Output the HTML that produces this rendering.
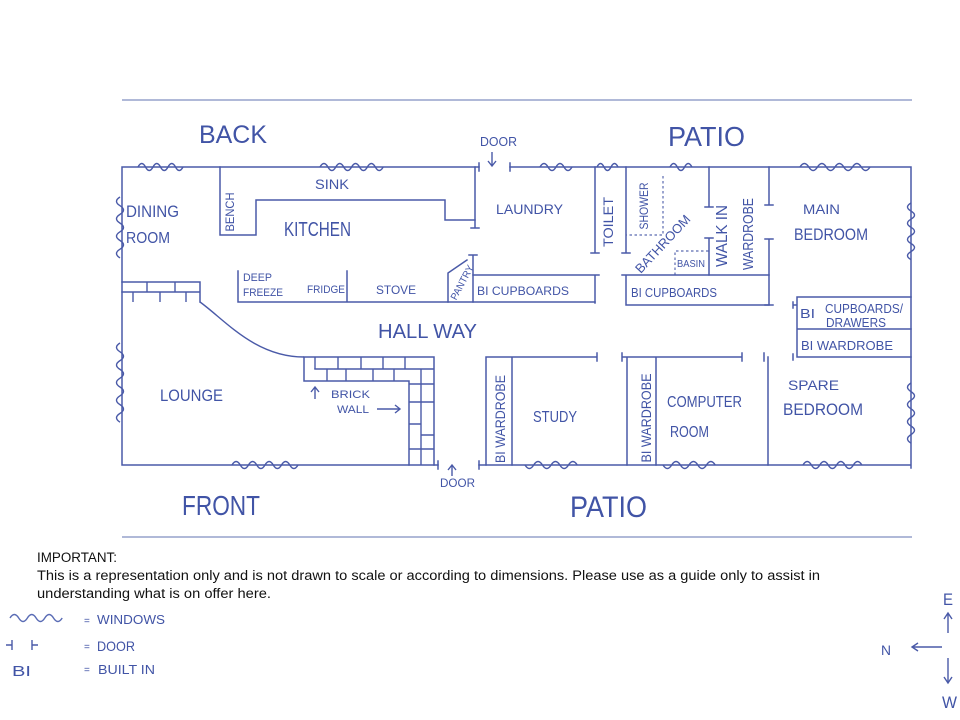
<!DOCTYPE html>
<html><head><meta charset="utf-8"><style>
html,body{margin:0;padding:0;background:#fff;}
svg{display:block;}
.w{fill:none;stroke:#4a5aa8;stroke-width:1.5;stroke-linecap:square;}
.d{fill:none;stroke:#5a6ab0;stroke-width:1.2;stroke-dasharray:2.5 2.5;}
.v{fill:none;stroke:#4a5aa8;stroke-width:1.4;}
.t{font-family:"Liberation Sans",sans-serif;fill:#4154a6;}
.k{font-family:"Liberation Sans",sans-serif;fill:#111;font-size:13.5px;}
</style></head><body>
<svg width="960" height="720" viewBox="0 0 960 720" xmlns="http://www.w3.org/2000/svg">
<rect width="960" height="720" fill="#fff"/>
<!-- boundary lines -->
<path d="M122,100 H912" stroke="#95a2cc" stroke-width="1.6" fill="none"/>
<path d="M122,537 H912" stroke="#95a2cc" stroke-width="1.6" fill="none"/>

<!-- outer walls -->
<path class="w" d="M122,167 H479 M510,167 H911 M122,167 V465 M911,167 V468 M122,465 H438 M479,465 H911"/>
<path class="w" d="M479,163 V171 M510,163 V171 M438,461 V469 M479,461 V469"/>

<!-- kitchen -->
<path class="w" d="M220,167 V235 H256 V200 H445 V220 H475"/>
<path class="w" d="M475,167 V228 M471,228 H479"/>
<path class="w" d="M238,271 V302 M347,271 V302 M238,302 H595"/>
<path class="w" d="M448,302 V273 L467,260 M473,255 V302 M469,255 H477"/>
<path class="w" d="M473,275 H595 V303 M591,275 H599"/>

<!-- laundry / toilet / bath -->
<path class="w" d="M595,167 V253 M591,253 H599 M626,167 V253 M622,253 H630"/>
<path class="d" d="M663,176 V235 H626"/>
<path class="w" d="M709,167 V207 M705,207 H713 M709,238 V275 M705,238 H713"/>
<path class="d" d="M675,275 V251 H709"/>
<path class="w" d="M769,167 V205 M765,205 H773 M769,239 V305 M765,239 H773 M765,305 H773"/>
<path class="w" d="M626,305 V275 H769 M626,305 H769 M622,275 H630"/>

<!-- main bedroom built ins -->
<path class="w" d="M797,297 H911 M797,297 V357 H911 M797,329 H911 M793,302 V308 M793,305 H797 M793,354 V360"/>

<!-- hallway lower rooms -->
<path class="w" d="M486,465 V357 H597 M512,357 V465 M597,353 V361"/>
<path class="w" d="M622,357 H742 M627,357 V465 M656,357 V465 M622,353 V361 M742,353 V361"/>
<path class="w" d="M768,357 V465 M764,353 V361"/>

<!-- brick walls -->
<path class="w" d="M304,357 H434 V465 M304,357 V381 H409 V465 M315,369 H434"/>
<path class="v" d="M315,357 V369 M338,357 V369 M361,357 V369 M383,357 V369 M405,357 V369 M327,369 V381 M346,369 V381 M373,369 V381 M394,369 V381 M421,369 V465 M409,384 H434 M409,402 H421 M409,424 H421 M421,435 H434 M409,449 H434 M421,402 H434"/>
<path class="w" d="M122,282 H200 V302 M122,292 H200"/>
<path class="v" d="M147,282 V292 M175,282 V292 M133,292 V302 M160,292 V302 M186,292 V302"/>
<path class="v" d="M200,302 C225,320 255,357 304,357"/>

<!-- windows -->
<g class="v">
<path d="M138,167 q3.75,-7 7.5,0 t7.5,0 t7.5,0 t7.5,0 t7.5,0 t7.5,0"/>
<path d="M320,167 q3.95,-7 7.9,0 t7.9,0 t7.9,0 t7.9,0 t7.9,0 t7.9,0 t7.9,0 t7.9,0"/>
<path d="M540,167 q4,-7 8,0 t8,0 t8,0 t8,0"/>
<path d="M597,167 q3.5,-7 7,0 t7,0 t7,0"/>
<path d="M670,167 q3.65,-7 7.3,0 t7.3,0 t7.3,0"/>
<path d="M800,167 q4.375,-7 8.75,0 t8.75,0 t8.75,0 t8.75,0 t8.75,0 t8.75,0 t8.75,0 t8.75,0"/>
<path d="M232,465 q4.125,-7 8.25,0 t8.25,0 t8.25,0 t8.25,0 t8.25,0 t8.25,0 t8.25,0 t8.25,0"/>
<path d="M525,465 q4.35,7 8.7,0 t8.7,0 t8.7,0 t8.7,0 t8.7,0 t8.7,0"/>
<path d="M663,465 q4.35,7 8.7,0 t8.7,0 t8.7,0 t8.7,0 t8.7,0 t8.7,0"/>
<path d="M803,465 q4.2,-7 8.4,0 t8.4,0 t8.4,0 t8.4,0 t8.4,0 t8.4,0 t8.4,0"/>
<path d="M120,197 q-7,4.35 0,8.7 t0,8.7 t0,8.7 t0,8.7 t0,8.7 t0,8.7 t0,8.7"/>
<path d="M120,343 q-7,4.4 0,8.8 t0,8.8 t0,8.8 t0,8.8 t0,8.8 t0,8.8 t0,8.8 t0,8.8 t0,8.8"/>
<path d="M911,203 q-7,4.05 0,8.1 t0,8.1 t0,8.1 t0,8.1 t0,8.1 t0,8.1 t0,8.1"/>
<path d="M911,383 q-7,4.3 0,8.6 t0,8.6 t0,8.6 t0,8.6 t0,8.6 t0,8.6 t0,8.6"/>
<path d="M10,618 q4.35,-7 8.7,0 t8.7,0 t8.7,0 t8.7,0 t8.7,0 t8.7,0" stroke="#5a6cb5"/>
</g>

<!-- arrows -->
<g class="v">
<path d="M492,152 V166 M488,161 L492,166 L496,161"/>
<path d="M452,465 V476 M448,470 L452,465 L456,470"/>
<path d="M315,387 V399 M311,392 L315,387 L319,392"/>
<path d="M377,409 H400 M395,405 L400,409 L395,413"/>
<path d="M948,613 V633 M944,619 L948,613 L952,619"/>
<path d="M942,647 H912 M918,643 L912,647 L918,651"/>
<path d="M948,658 V683 M944,677 L948,683 L952,677"/>
<path d="M6,645 H12 M12,640 V650 M32,640 V650 M32,645 H38"/>
</g>

<!-- labels -->
<g class="t">
<text x="199" y="143" font-size="25" textLength="68" lengthAdjust="spacingAndGlyphs">BACK</text>
<text x="668" y="146" font-size="28" textLength="77" lengthAdjust="spacingAndGlyphs">PATIO</text>
<text x="480" y="146" font-size="13" textLength="37" lengthAdjust="spacingAndGlyphs">DOOR</text>
<text x="315" y="189" font-size="14" textLength="34" lengthAdjust="spacingAndGlyphs">SINK</text>
<text x="126" y="217" font-size="17" textLength="53" lengthAdjust="spacingAndGlyphs">DINING</text>
<text x="126" y="243" font-size="16" textLength="44" lengthAdjust="spacingAndGlyphs">ROOM</text>
<text x="284" y="236" font-size="20" textLength="67" lengthAdjust="spacingAndGlyphs">KITCHEN</text>
<text x="243" y="281" font-size="11" textLength="29" lengthAdjust="spacingAndGlyphs">DEEP</text>
<text x="243" y="296" font-size="11" textLength="40" lengthAdjust="spacingAndGlyphs">FREEZE</text>
<text x="307" y="293" font-size="11" textLength="38" lengthAdjust="spacingAndGlyphs">FRIDGE</text>
<text x="376" y="294" font-size="12" textLength="40" lengthAdjust="spacingAndGlyphs">STOVE</text>
<text x="477" y="295" font-size="12" textLength="92" lengthAdjust="spacingAndGlyphs">BI CUPBOARDS</text>
<text x="496" y="214" font-size="14" textLength="67" lengthAdjust="spacingAndGlyphs">LAUNDRY</text>
<text x="677" y="267" font-size="10" textLength="28" lengthAdjust="spacingAndGlyphs">BASIN</text>
<text x="631" y="297" font-size="13" textLength="86" lengthAdjust="spacingAndGlyphs">BI CUPBOARDS</text>
<text x="803" y="214" font-size="14" textLength="37" lengthAdjust="spacingAndGlyphs">MAIN</text>
<text x="794" y="240" font-size="17" textLength="74" lengthAdjust="spacingAndGlyphs">BEDROOM</text>
<text x="800" y="318" font-size="13" textLength="15" lengthAdjust="spacingAndGlyphs">BI</text>
<text x="825" y="313" font-size="13" textLength="78" lengthAdjust="spacingAndGlyphs">CUPBOARDS/</text>
<text x="826" y="327" font-size="13" textLength="60" lengthAdjust="spacingAndGlyphs">DRAWERS</text>
<text x="801" y="350" font-size="13" textLength="92" lengthAdjust="spacingAndGlyphs">BI WARDROBE</text>
<text x="378" y="338" font-size="20" textLength="99" lengthAdjust="spacingAndGlyphs">HALL WAY</text>
<text x="160" y="401" font-size="17" textLength="63" lengthAdjust="spacingAndGlyphs">LOUNGE</text>
<text x="331" y="398" font-size="11" textLength="39" lengthAdjust="spacingAndGlyphs">BRICK</text>
<text x="337" y="413" font-size="11" textLength="32" lengthAdjust="spacingAndGlyphs">WALL</text>
<text x="533" y="422" font-size="16" textLength="44" lengthAdjust="spacingAndGlyphs">STUDY</text>
<text x="667" y="407" font-size="16" textLength="75" lengthAdjust="spacingAndGlyphs">COMPUTER</text>
<text x="670" y="437" font-size="16" textLength="39" lengthAdjust="spacingAndGlyphs">ROOM</text>
<text x="788" y="390" font-size="14" textLength="51" lengthAdjust="spacingAndGlyphs">SPARE</text>
<text x="783" y="415" font-size="17" textLength="80" lengthAdjust="spacingAndGlyphs">BEDROOM</text>
<text x="182" y="515" font-size="28" textLength="78" lengthAdjust="spacingAndGlyphs">FRONT</text>
<text x="570" y="517" font-size="30" textLength="77" lengthAdjust="spacingAndGlyphs">PATIO</text>
<text x="440" y="487" font-size="12" textLength="35" lengthAdjust="spacingAndGlyphs">DOOR</text>

<text transform="translate(234,212) rotate(-90)" text-anchor="middle" font-size="12" textLength="39" lengthAdjust="spacingAndGlyphs">BENCH</text>
<text transform="translate(613,222) rotate(-90)" text-anchor="middle" font-size="14" textLength="50" lengthAdjust="spacingAndGlyphs">TOILET</text>
<text transform="translate(648,206) rotate(-90)" text-anchor="middle" font-size="12" textLength="47" lengthAdjust="spacingAndGlyphs">SHOWER</text>
<text transform="translate(727,236) rotate(-90)" text-anchor="middle" font-size="16" textLength="62" lengthAdjust="spacingAndGlyphs">WALK IN</text>
<text transform="translate(753,234) rotate(-90)" text-anchor="middle" font-size="15" textLength="72" lengthAdjust="spacingAndGlyphs">WARDROBE</text>
<text transform="translate(505,419) rotate(-90)" text-anchor="middle" font-size="14" textLength="88" lengthAdjust="spacingAndGlyphs">BI WARDROBE</text>
<text transform="translate(651,418) rotate(-90)" text-anchor="middle" font-size="14" textLength="89" lengthAdjust="spacingAndGlyphs">BI WARDROBE</text>
<text transform="translate(666,247) rotate(-47)" text-anchor="middle" font-size="13" textLength="74" lengthAdjust="spacingAndGlyphs">BATHROOM</text>
<text transform="translate(465,284) rotate(-62)" text-anchor="middle" font-size="10" textLength="38" lengthAdjust="spacingAndGlyphs">PANTRY</text>

<!-- legend -->
<text x="84" y="624" font-size="10">=</text>
<text x="97" y="624" font-size="13" textLength="68" lengthAdjust="spacingAndGlyphs">WINDOWS</text>
<text x="84" y="650" font-size="10">=</text>
<text x="97" y="651" font-size="14" textLength="38" lengthAdjust="spacingAndGlyphs">DOOR</text>
<text x="12" y="676" font-size="15" textLength="19" lengthAdjust="spacingAndGlyphs">BI</text>
<text x="84" y="673" font-size="10">=</text>
<text x="98" y="674" font-size="13" textLength="57" lengthAdjust="spacingAndGlyphs">BUILT IN</text>

<!-- compass -->
<text x="943" y="605" font-size="17" textLength="10" lengthAdjust="spacingAndGlyphs">E</text>
<text x="881" y="655" font-size="14" textLength="10" lengthAdjust="spacingAndGlyphs">N</text>
<text x="942" y="708" font-size="17" textLength="15" lengthAdjust="spacingAndGlyphs">W</text>
</g>

<!-- note -->
<text class="k" x="37" y="562" textLength="80" lengthAdjust="spacingAndGlyphs">IMPORTANT:</text>
<text class="k" x="37" y="580" textLength="783" lengthAdjust="spacingAndGlyphs">This is a representation only and is not drawn to scale or according to dimensions.  Please use as a guide only to assist in</text>
<text class="k" x="37" y="598" textLength="234" lengthAdjust="spacingAndGlyphs">understanding what is on offer here.</text>
</svg>
</body></html>
